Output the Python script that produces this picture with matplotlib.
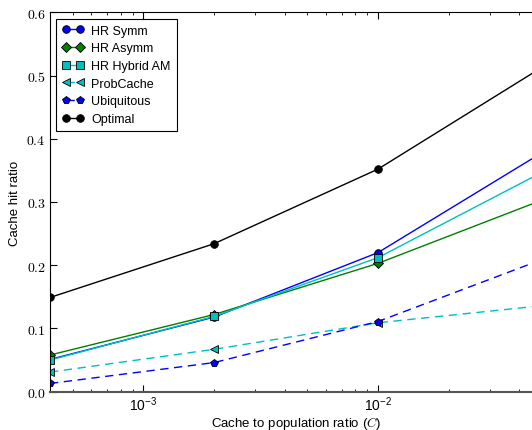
import numpy as np
import matplotlib
matplotlib.use('Agg')
import matplotlib.pyplot as plt
from matplotlib.ticker import FuncFormatter

# cache / population ratio
cache_ratio = [4e-4, 2e-3, 1e-2, 5e-2]

hr_symm      = [0.051, 0.118, 0.220, 0.378]
hr_asymm     = [0.058, 0.122, 0.203, 0.303]
hr_hybrid_am = [0.050, 0.119, 0.212, 0.347]
probcache    = [0.031, 0.067, 0.109, 0.136]
ubiquitous   = [0.013, 0.046, 0.111, 0.209]
optimal      = [0.149, 0.234, 0.352, 0.513]

y_ticks = [0.0, 0.1, 0.2, 0.3, 0.4, 0.5, 0.6]

plt.rcParams.update({
    'font.family': ['Liberation Sans', 'DejaVu Sans'],
    'mathtext.fontset': 'cm',
    'font.size': 9,
    'xtick.direction': 'in', 'ytick.direction': 'in',
    'xtick.top': True, 'ytick.right': True,
})

fig = plt.figure(figsize=(5.32, 4.31), dpi=100)
# the reference is cropped: right spine sits just outside the picture
ax = fig.add_axes([50/532, 38.3/431, 492/532, 379.4/431])

mk = dict(markeredgecolor='k', markeredgewidth=0.6, lw=1, ms=5.5)
ax.plot(cache_ratio, hr_symm, 'o-', color='#0000ff', label='HR Symm', **mk)
ax.plot(cache_ratio, hr_asymm, 'D-', color='#008000', label='HR Asymm', **mk)
ax.plot(cache_ratio, hr_hybrid_am, 's-', color='#00bfbf', label='HR Hybrid AM', **mk)
ax.plot(cache_ratio, probcache, '<--', color='#00bfbf', dashes=(6, 4),
        label='ProbCache', **mk)
ax.plot(cache_ratio, ubiquitous, 'p--', color='#0000ff', dashes=(6, 4),
        label='Ubiquitous', **mk)
ax.plot(cache_ratio, optimal, 'o-', color='k', label='Optimal', **mk)

ax.set_xscale('log')
ax.set_xlim(4e-4, 5e-2)
ax.set_ylim(0, 0.6)
ax.set_yticks(y_ticks)
ax.yaxis.set_major_formatter(FuncFormatter(lambda v, p: r'$%.1f$' % v))
ax.tick_params(which='major', length=5, pad=3)
ax.tick_params(axis='x', pad=2)
ax.tick_params(which='minor', length=2.5)
ax.tick_params(labelsize=10)

ax.spines['bottom'].set_color('#555555')
ax.spines['bottom'].set_linewidth(1.5)

ax.set_xlabel('Cache to population ratio ($C$)', fontsize=9.5, labelpad=1)
ax.set_ylabel('Cache hit ratio', fontsize=9.5)

leg = ax.legend(loc='upper left', numpoints=2, fontsize=9, fancybox=False,
                framealpha=1, edgecolor='k', handlelength=1.7,
                handletextpad=0.6, borderpad=0.5, labelspacing=0.45)
leg.get_frame().set_linewidth(0.8)

fig.savefig('out.png', dpi=100)
